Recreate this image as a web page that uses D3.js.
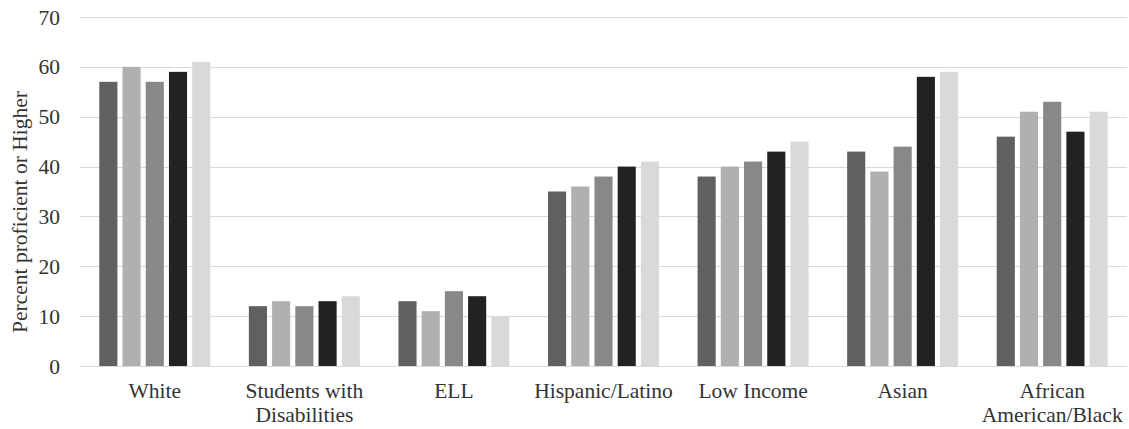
<!DOCTYPE html>
<html><head><meta charset="utf-8">
<script src="https://cdn.jsdelivr.net/npm/d3@7"></script>
<style>body{margin:0;background:#fff}svg{display:block}text{font-family:"Liberation Serif","Times New Roman",serif;fill:#333}</style>
</head><body><svg id="c" width="1129" height="429"></svg>
<script>
const categories = ["White", "Students with\nDisabilities", "ELL", "Hispanic/Latino", "Low Income", "Asian", "African\nAmerican/Black"];
const series1 = [57, 12, 13, 35, 38, 43, 46];
const series2 = [60, 13, 11, 36, 40, 39, 51];
const series3 = [57, 12, 15, 38, 41, 44, 53];
const series4 = [59, 13, 14, 40, 43, 58, 47];
const series5 = [61, 14, 10, 41, 45, 59, 51];
const seriesList = [series1, series2, series3, series4, series5];
const colors = ["#606060", "#b0b0b0", "#888888", "#222222", "#d9d9d9"];
const yTicks = [0, 10, 20, 30, 40, 50, 60, 70];
const yTitle = "Percent proficient or Higher";

const svg = d3.select("#c");
const m = {l: 80, r: 2, t: 17, b: 63};
const W = 1129, H = 429;
const FS = 21.5;
const x = d3.scaleBand().domain(categories.map((d,i)=>i)).range([m.l, W - m.r]).paddingInner(0).paddingOuter(0);
const y = d3.scaleLinear().domain([0, 70]).range([H - m.b, m.t]);
const xs = d3.scaleBand().domain(d3.range(seriesList.length)).range([0, 111]).paddingInner(0.22);

svg.append("g").selectAll("line").data(yTicks).join("line")
  .attr("x1", m.l).attr("x2", W - m.r)
  .attr("y1", d => Math.round(y(d)) + 0.5).attr("y2", d => Math.round(y(d)) + 0.5)
  .attr("stroke", "#d9d9d9").attr("stroke-width", 1.2);

svg.append("g").selectAll("text").data(yTicks).join("text")
  .attr("x", 60).attr("y", d => y(d)).attr("dy", "0.35em")
  .attr("text-anchor", "end").attr("font-size", FS).text(d => d);

seriesList.forEach((s, si) => {
  svg.append("g").selectAll("rect").data(s).join("rect")
    .attr("x", (d, i) => x(i) + x.bandwidth() / 2 - 55.5 + xs(si))
    .attr("width", xs.bandwidth())
    .attr("y", d => y(d)).attr("height", d => y(0) - y(d))
    .attr("fill", colors[si]);
});

const lab = svg.append("g").selectAll("text").data(categories).join("text")
  .attr("text-anchor", "middle").attr("font-size", FS)
  .attr("transform", (d, i) => `translate(${x(i) + x.bandwidth() / 2},398)`);
lab.each(function(d) {
  d.split("\n").forEach((ln, k) => {
    d3.select(this).append("tspan").attr("x", 0).attr("y", k * 24).text(ln);
  });
});

svg.append("text").attr("transform", `translate(27,${(82 + 342) / 2}) rotate(-90)`)
  .attr("text-anchor", "middle").attr("font-size", FS).text(yTitle);
</script></body></html>
